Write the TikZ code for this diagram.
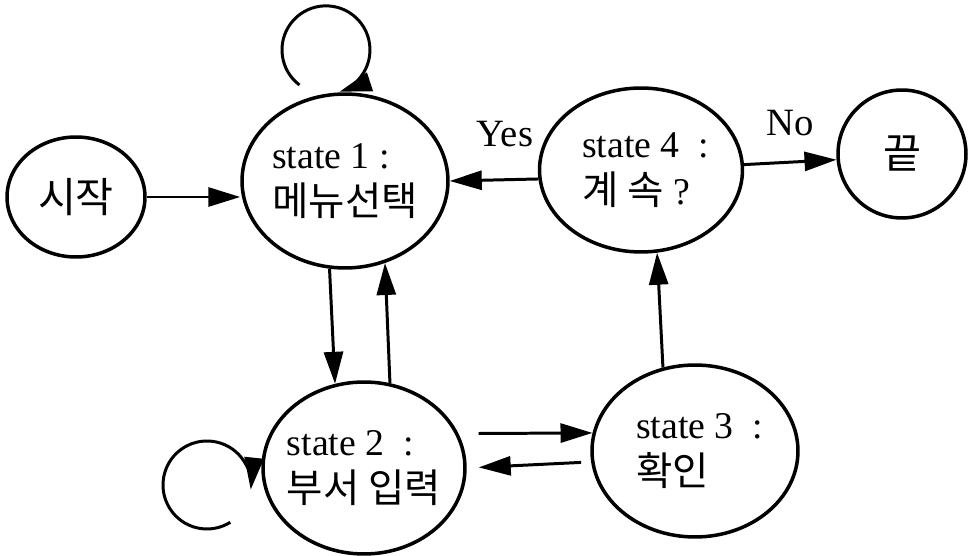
\documentclass[tikz,border=0pt]{standalone}
\usepackage{fontspec}
\setmainfont{Liberation Serif}
\newfontfamily\kr{Noto Sans CJK KR}
\usetikzlibrary{arrows.meta, shapes.geometric}

\begin{document}
\begin{tikzpicture}[
    x=0.02cm, y=0.02cm,
    state/.style={ellipse, draw, line width=2pt, inner sep=-12pt, align=left, font=\fontsize{21.5}{27}\selectfont},
    hangul/.style={font=\kr\fontsize{23.5}{27}\selectfont},
    trans/.style={-{Triangle[length=0.64cm, width=0.38cm]}, line width=1.7pt},
    lbl/.style={font=\fontsize{22}{24}\selectfont},
]
    \useasboundingbox (0,0) rectangle (971,555);

    % States
    \node[state, hangul, minimum width=2.76cm, minimum height=2.4cm] (start) at (76,358) {시작};
    \node[state, minimum width=4.12cm, minimum height=3.48cm] (s1) at (345,374) {state 1 :\\{\kr\fontsize{22.5}{27}\selectfont 메뉴선택}};
    \node[state, minimum width=4.06cm, minimum height=3.28cm] (s4) at (641,385) {~state 4~~:\\~{\kr\fontsize{22.5}{27}\selectfont 계 속} ?};
    \node[state, hangul, minimum width=2.56cm, minimum height=2.56cm] (end) at (902,401) {끝};
    \node[state, minimum width=4.04cm, minimum height=3.44cm] (s2) at (364,87) {state 2~~:\\{\kr\fontsize{22.5}{27}\selectfont 부서 입력}};
    \node[state, minimum width=4.12cm, minimum height=3.44cm] (s3) at (695,104) {~state 3~~:\\~{\kr\fontsize{22.5}{27}\selectfont 확인}};

    % Transitions
    \draw[trans] (start.east) -- (start.east -| s1.west);
    \draw[trans] (s4.185) -- (s1.east);
    \draw[trans] (s4.3) -- (end.185);
    \draw[trans] (s1.260) -- (s2.109);
    \draw[trans] (s2.73) -- (s1.296);
    \draw[trans, shorten <=0.4cm] (s2.20) -- (s3.170);
    \draw[trans, shorten <=0.2cm, shorten >=0.24cm] (s3.186) -- (s2.east);
    \draw[trans] (s3.111) -- (s4.281);

    % Self loops
    \coordinate (s1loop) at (299.5,470);
    \draw[trans] (s1loop) arc[start angle=233, end angle=-72, radius=44];
    \coordinate (s2loop) at (230.3,32.7);
    \draw[trans] (s2loop) arc[start angle=302, end angle=-6, radius=44];

    % Labels
    \node[lbl] (yes) at (505,421) {Yes};
    \node[lbl] (no) at (790,432) {No};
\end{tikzpicture}
\end{document}
